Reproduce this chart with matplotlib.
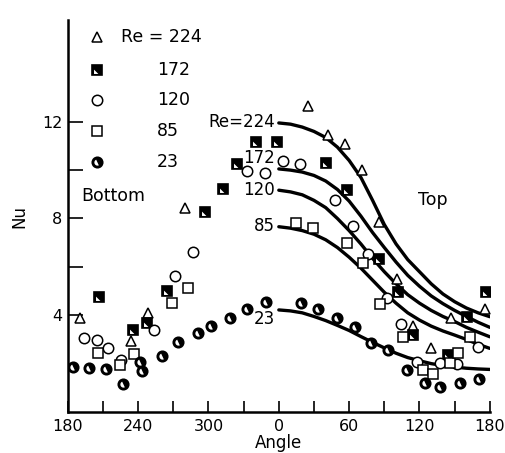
import numpy as np
import matplotlib
matplotlib.use("Agg")
import matplotlib.pyplot as plt

# angle runs 180 -> 360(=0) -> 540(=180); ticks are relabelled mod 360
tick_pos = [180, 240, 300, 360, 420, 480, 540]
tick_lab = ['180', '240', '300', '0', '60', '120', '180']

# Re = 224, open triangles
tri_x = [190, 234.3, 248, 280, 385, 402, 416.3, 431.1, 445.6, 461, 474.6, 489.7, 506.5, 535.8]
tri_y = [3.88, 2.95, 4.09, 8.42, 12.64, 11.47, 11.06, 10.0, 7.86, 5.48, 3.55, 2.66, 3.90, 4.24]

# Re = 172, half filled squares
hsq_x = [206.5, 235.2, 247.4, 264.5, 296.9, 312.5, 324.2, 340.4, 358.6, 400.1, 418.3,
         445.6, 461.8, 474.6, 504.5, 520.7, 536.7]
hsq_y = [4.75, 3.39, 3.69, 5.01, 8.28, 9.20, 10.25, 11.17, 11.17, 10.30, 9.17,
         6.31, 4.97, 3.18, 2.36, 3.94, 4.97]

# Re = 120, open circles
cir_x = [193.7, 204.5, 213.9, 225, 253.4, 271.3, 286.9, 333, 348, 363.2, 378, 407.8,
         423.4, 436.2, 451.9, 464.1, 477.5, 497.4, 512.2, 530]
cir_y = [3.06, 2.97, 2.64, 2.15, 3.39, 5.62, 6.62, 9.97, 9.89, 10.38, 10.27, 8.76,
         7.69, 6.53, 4.70, 3.64, 2.08, 2.01, 1.98, 2.70]

# Re = 85, open squares
sq_x = [205.9, 224.4, 236.3, 269.3, 282.6, 374.5, 389.3, 417.8, 432, 446.5, 466.1,
        483.2, 491.7, 506, 513, 523]
sq_y = [2.45, 1.94, 2.40, 4.52, 5.12, 7.80, 7.59, 6.97, 6.14, 4.45, 3.09,
        1.74, 1.57, 2.01, 2.42, 3.09]

# Re = 23, half filled circles
hc_x = [184.5, 198, 213, 227.2, 241.4, 243.7, 260, 274.1, 290.7, 302, 318.2, 332.5,
        349.5, 378.8, 393.6, 409.3, 425.1, 438.5, 453.3, 469, 484.6, 497.4, 514.5, 530.9]
hc_y = [1.85, 1.83, 1.78, 1.16, 2.08, 1.71, 2.31, 2.91, 3.28, 3.55, 3.90, 4.26,
        4.56, 4.49, 4.24, 3.87, 3.53, 2.86, 2.56, 1.74, 1.19, 1.05, 1.19, 1.35]

curve_x = [360, 370, 380, 390, 400, 410, 420, 430, 440, 450,
           460, 470, 480, 490, 500, 510, 520, 530, 540]
curve_224 = [11.95, 11.9, 11.78, 11.6, 11.35, 10.95, 10.4, 9.7, 8.75, 7.75,
             6.95, 6.3, 5.8, 5.3, 4.88, 4.56, 4.3, 4.1, 3.94]
curve_172 = [10.05, 10.0, 9.92, 9.78, 9.55, 9.2, 8.72, 8.1, 7.42, 6.8,
             6.2, 5.65, 5.2, 4.8, 4.48, 4.2, 3.95, 3.71, 3.5]
curve_120 = [9.17, 9.1, 8.98, 8.75, 8.45, 8.0, 7.5, 6.95, 6.35, 5.8,
             5.3, 4.85, 4.5, 4.2, 3.95, 3.74, 3.5, 3.3, 3.11]
curve_85 = [7.66, 7.6, 7.5, 7.35, 7.12, 6.8, 6.4, 5.95, 5.45, 4.95,
            4.5, 4.1, 3.8, 3.55, 3.35, 3.18, 3.0, 2.8, 2.63]
curve_23 = [4.22, 4.18, 4.1, 3.95, 3.78, 3.58, 3.37, 3.12, 2.88, 2.65,
            2.43, 2.25, 2.12, 2.0, 1.92, 1.86, 1.81, 1.78, 1.76]
curve_labels = ['Re=224', '172', '120', '85', '23']
curve_label_y = [12.0, 10.5, 9.17, 7.69, 3.85]

legend_labels = ['Re = 224', '172', '120', '85', '23']

# white inserts that turn a filled marker into the half-filled look
white_tri = [(-1, -1), (-1, 0.25), (0.25, -1), (-1, -1)]
ang = np.radians(np.linspace(115, 295, 25))
white_half = list(zip(np.cos(ang), np.sin(ang)))


def half_square(ax, x, y, **kw):
    ax.plot(x, y, ls='none', marker='s', mfc='black', mec='black', ms=7, mew=1.2, **kw)
    ax.plot(x, y, ls='none', marker=white_tri, mfc='white', mew=0, ms=5, **kw)


def half_circle(ax, x, y, **kw):
    ax.plot(x, y, ls='none', marker='o', mfc='black', mec='black', ms=7.5, mew=1.2, **kw)
    ax.plot(x, y, ls='none', marker=white_half, mfc='white', mew=0, ms=4.5, **kw)


def main():
    fig = plt.figure(figsize=(5.06, 4.53), dpi=100)
    ax = fig.add_axes([0.134, 0.0905, 0.834, 0.865])

    for cy in [curve_224, curve_172, curve_120, curve_85, curve_23]:
        ax.plot(curve_x, cy, color='black', lw=2.4, solid_capstyle='round', solid_joinstyle='round')

    ax.plot(tri_x, tri_y, ls='none', marker='^', mfc='white', mec='black', ms=7.5, mew=1.1)
    half_square(ax, hsq_x, hsq_y)
    ax.plot(cir_x, cir_y, ls='none', marker='o', mfc='white', mec='black', ms=7.5, mew=1.1)
    ax.plot(sq_x, sq_y, ls='none', marker='s', mfc='white', mec='black', ms=7, mew=1.1)
    half_circle(ax, hc_x, hc_y)

    for lab, ly in zip(curve_labels, curve_label_y):
        ax.text(357, ly, lab, ha='right', va='center', fontsize=12)

    # hand drawn legend in the upper left corner
    rows = [0.957, 0.872, 0.796, 0.717, 0.638]
    tr = ax.transAxes
    ax.plot([0.069], [rows[0]], transform=tr, ls='none', marker='^', mfc='white', mec='black', ms=7.5, mew=1.1)
    half_square(ax, [0.069], [rows[1]], transform=tr)
    ax.plot([0.069], [rows[2]], transform=tr, ls='none', marker='o', mfc='white', mec='black', ms=7.5, mew=1.1)
    ax.plot([0.069], [rows[3]], transform=tr, ls='none', marker='s', mfc='white', mec='black', ms=7, mew=1.1)
    half_circle(ax, [0.069], [rows[4]], transform=tr)
    ax.text(0.126, rows[0], legend_labels[0], transform=tr, va='center', fontsize=12.5)
    for lab, ry in zip(legend_labels[1:], rows[1:]):
        ax.text(0.211, ry, lab, transform=tr, va='center', fontsize=12.5)

    ax.text(0.031, 0.551, 'Bottom', transform=tr, va='center', fontsize=12.5)
    ax.text(0.829, 0.541, 'Top', transform=tr, va='center', fontsize=12.5)

    ax.set_xlim(180, 540)
    ax.set_ylim(0, 16.2)
    ax.set_xticks(np.arange(180, 541, 30))
    ax.set_xticklabels([tick_lab[tick_pos.index(t)] if t in tick_pos else '' for t in range(180, 541, 30)])
    ax.set_yticks([4, 6, 8, 10, 12])
    ax.set_yticklabels(['4', '', '8', '', '12'])
    ax.tick_params(direction='in', length=8, width=1.2, labelsize=11.5, pad=5)
    ax.tick_params(axis='y', length=11, pad=4)

    for s in ['top', 'right']:
        ax.spines[s].set_visible(False)
    for s in ['left', 'bottom']:
        ax.spines[s].set_linewidth(1.8)

    ax.set_xlabel('Angle', fontsize=12, labelpad=0)
    ax.set_ylabel('Nu', fontsize=12, labelpad=10)

    fig.savefig('out.png', dpi=100)


if __name__ == "__main__":
    main()
